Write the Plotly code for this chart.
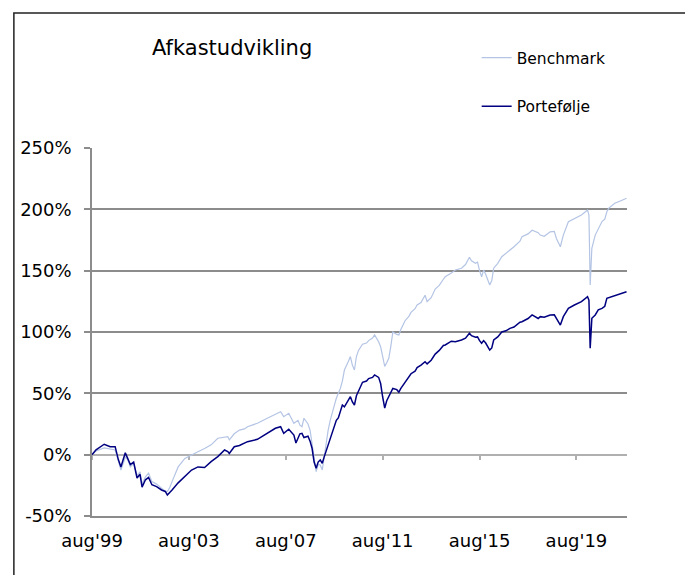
import plotly.graph_objects as go

# values (cumulative return in %)
dates = [
    "1999-08-01", "1999-10-01", "2000-02-01", "2000-05-01", "2000-07-15", "2000-09-01",
    "2000-10-10", "2000-12-15", "2001-01-20", "2001-03-01", "2001-04-20", "2001-06-10",
    "2001-07-25", "2001-08-25", "2001-10-15", "2001-12-01", "2002-01-20", "2002-04-01",
    "2002-06-15", "2002-08-10", "2002-09-10", "2002-10-15", "2002-11-20", "2003-02-20",
    "2003-06-01", "2003-09-10", "2003-12-15", "2004-03-25", "2004-07-01", "2004-10-10",
    "2005-01-20", "2005-03-10", "2005-04-01", "2005-06-15", "2005-09-01", "2005-11-15",
    "2006-01-01", "2006-05-30", "2006-10-25", "2007-02-25", "2007-05-15", "2007-07-01",
    "2007-09-15", "2007-12-01",
    "2008-01-01", "2008-02-01", "2008-03-01", "2008-04-01", "2008-05-01", "2008-07-01",
    "2008-08-01", "2008-09-01", "2008-10-01", "2008-11-01", "2008-12-01", "2009-01-01",
    "2009-02-01", "2009-03-01", "2009-04-01", "2009-05-01", "2009-06-01", "2009-07-01",
    "2009-08-01", "2009-09-01", "2009-10-01", "2009-11-01", "2009-12-01",
    "2010-01-01", "2010-03-01", "2010-04-01", "2010-05-01", "2010-06-01", "2010-07-01",
    "2010-08-01", "2010-10-01", "2010-12-01", "2011-01-01", "2011-03-01", "2011-04-01",
    "2011-06-01", "2011-07-01", "2011-08-01", "2011-09-01", "2011-10-01", "2011-11-01",
    "2011-12-01", "2012-01-01", "2012-03-01", "2012-04-01", "2012-05-01", "2012-07-01",
    "2012-09-01", "2012-10-01", "2012-12-01", "2013-01-01", "2013-03-01", "2013-05-01",
    "2013-06-01", "2013-08-01",
    "2013-10-01", "2013-12-01", "2014-02-01", "2014-03-01", "2014-06-01", "2014-08-01",
    "2014-11-01", "2015-01-01", "2015-03-01", "2015-04-01", "2015-06-01", "2015-07-01",
    "2015-08-01", "2015-09-01", "2015-10-01", "2015-11-01", "2016-01-01", "2016-02-01",
    "2016-03-01", "2016-05-01", "2016-07-01", "2016-09-01", "2016-11-01", "2017-01-01",
    "2017-04-01", "2017-05-01", "2017-08-01", "2017-10-01", "2018-01-01", "2018-02-01",
    "2018-04-01", "2018-07-01", "2018-09-01", "2018-10-01", "2018-12-01", "2019-01-15",
    "2019-04-01", "2019-07-01", "2019-10-15", "2020-01-15", "2020-02-05", "2020-02-24",
    "2020-03-20", "2020-05-10", "2020-06-25", "2020-08-20", "2020-10-01", "2020-11-01",
    "2020-12-01", "2021-03-01", "2021-06-01", "2021-08-25",
]

benchmark = [
    0, 3, 5.5, 4.5, 3.8, -5,
    -12.5, -2, -4, -10, -7, -17,
    -14, -24, -18, -15, -22, -24,
    -27, -30, -30, -27, -22, -10,
    -3, 0, 2.4, 5, 8, 13.4,
    14, 14.7, 12, 17, 20, 21,
    22.8, 25.6, 29.7, 33, 35, 31,
    33.7, 25.6,
    27, 28, 24, 22.8, 29.7, 25,
    20, 8, -5, -13.8, -8, -8.4,
    -12.5, -2, 8, 20, 28, 35,
    40, 46, 50, 54, 60,
    69, 76, 80, 73, 69, 80,
    85, 90, 91, 93, 95, 97.6,
    92, 88, 81, 72, 75, 78.6,
    88, 100, 98, 97.6, 102, 109,
    113, 116, 119, 122, 124, 130,
    124.7, 128,
    135, 138, 143, 145, 148, 150.5,
    152, 155, 161, 158, 156, 157,
    150, 145, 150.5, 147, 138.3, 142,
    152, 156, 161.4, 164, 166.8, 169.5,
    174, 177.7, 180, 183, 181, 179,
    178, 181.7, 182, 176.4, 169.5, 179,
    189.9, 192.7, 195.4, 199.5, 195.4, 138.3,
    168.2, 179, 184.5, 190, 192, 198,
    201, 204.9, 207, 209,
]

portfolio = [
    0, 4, 8.5, 6.5, 6.5, -4,
    -10, 1.5, -3, -8, -6, -19,
    -16, -26.5, -20.5, -18.5, -24.5, -26,
    -28.8, -30, -32.8, -31, -28.8, -23,
    -18, -12.5, -10, -10.5, -5.7, -1.6,
    3.8, 2.5, 1, 6.5, 7.5, 9.3,
    10.6, 12.5, 17.4, 21.5, 22.8, 17.4,
    20.7, 16,
    9.5, 13, 17, 17.4, 14, 15,
    11, 5, -6, -11, -6, -4.3,
    -7, -2, 3, 8, 12, 18,
    22, 28, 30, 35, 40.5,
    39, 44, 47.3, 43, 40.5, 48,
    52, 59, 60, 62, 63, 65,
    63, 58, 47, 38, 44, 47,
    50, 54, 53, 51, 54, 59,
    63, 66, 68, 71, 73, 75.8,
    74, 77,
    82, 85, 89, 89.4, 92.5, 92,
    93.5, 95, 99, 97, 95.7, 96,
    93, 90.8, 93, 91, 85.3, 87,
    93.5, 96, 100, 101, 103, 104,
    108, 108.4, 111, 113.9, 111, 112.5,
    112, 113.9, 114, 111.2, 105.7, 112.5,
    119.3, 122, 124.7, 128.8, 126, 86.7,
    111.2, 113.9, 118, 119.3, 121, 127.5,
    128, 130, 131.5, 132.8,
]

tick_dates = ["1999-08-01", "2003-08-01", "2007-08-01", "2011-08-01", "2015-08-01", "2019-08-01"]
tick_labels = ["aug'99", "aug'03", "aug'07", "aug'11", "aug'15", "aug'19"]
y_ticks = [-50, 0, 50, 100, 150, 200, 250]
y_labels = [f"{v}%" for v in y_ticks]

FONT = "DejaVu Sans"
GRID = "#8c8c8c"
x_range = ["1999-08-01", "2021-09-01"]

fig = go.Figure()
fig.add_trace(go.Scatter(x=dates, y=benchmark, name="Benchmark", mode="lines",
                         line=dict(color="#b4c4e4", width=1.2), legend="legend"))
# portfolio sits on the overlaid date axis that carries the tick marks at 0%
fig.add_trace(go.Scatter(x=dates, y=portfolio, name="Portefølje", mode="lines",
                         line=dict(color="#000080", width=1.5), legend="legend2",
                         xaxis="x2"))

# page body has an 8px margin, so the figure is shifted by 8px; margins compensate
fig.update_layout(
    width=685, height=567,
    margin=dict(l=78, r=66, t=140, b=59),
    showlegend=True,
    paper_bgcolor="white", plot_bgcolor="white",
    font=dict(family=FONT, color="#000000", size=18),
    title=dict(text="Afkastudvikling", font=dict(family=FONT, size=21, color="#000000"),
               xref="container", yref="container", x=144 / 685, xanchor="left",
               y=1 - 40 / 567, yanchor="middle"),
    legend=dict(x=0.719, y=1.2446, xanchor="left", yanchor="middle",
                font=dict(family=FONT, size=15.5), bgcolor="rgba(0,0,0,0)"),
    legend2=dict(x=0.719, y=1.1122, xanchor="left", yanchor="middle",
                 font=dict(family=FONT, size=15.5), bgcolor="rgba(0,0,0,0)"),
    xaxis=dict(range=x_range, tickvals=tick_dates, ticktext=tick_labels,
               showgrid=False, zeroline=False, ticks="", showline=True,
               linecolor=GRID, linewidth=1.5, ticklabelstandoff=8,
               tickfont=dict(family=FONT, size=18)),
    xaxis2=dict(range=x_range, overlaying="x", anchor="free", position=1 / 6,
                tickvals=tick_dates, showticklabels=False, ticks="outside",
                ticklen=5, tickcolor="#b0b0b0", tickwidth=1.5, showgrid=False,
                zeroline=False, showline=True, linecolor="#b0b0b0", linewidth=1.5,
                layer="below traces"),
    yaxis=dict(range=[-50, 250], tickvals=y_ticks, ticktext=y_labels,
               showgrid=True, gridcolor=GRID, gridwidth=1.5, zeroline=False,
               showline=True, linecolor=GRID, linewidth=1.5,
               ticks="outside", ticklen=6, tickcolor=GRID, tickwidth=1.5,
               ticklabelstandoff=9, tickfont=dict(family=FONT, size=18)),
    shapes=[dict(type="rect", xref="paper", yref="paper",
                 x0=(7 - 86) / 541, x1=1.2, y0=-0.3, y1=(516 - 13) / 368,
                 line=dict(color="#222222", width=1.5), fillcolor="rgba(0,0,0,0)",
                 layer="below")],
)

fig.write_html("out.html")
